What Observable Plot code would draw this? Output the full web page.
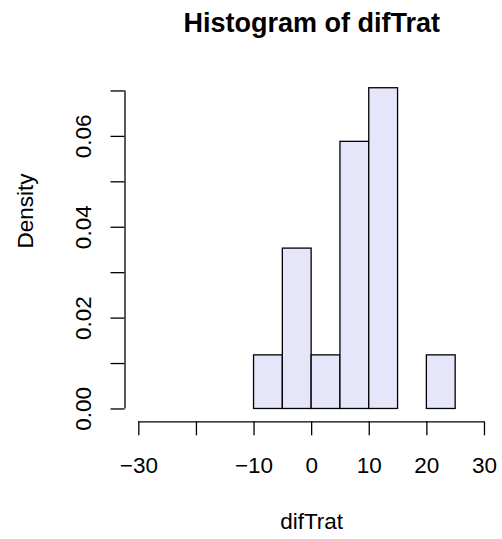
<!DOCTYPE html>
<html><head><meta charset="utf-8">
<script src="https://cdn.jsdelivr.net/npm/d3@7"></script>
<script src="https://cdn.jsdelivr.net/npm/@observablehq/plot@0.6"></script>
<style>html,body{margin:0;padding:0;background:#fff;} svg{display:block;}</style>
</head><body><div id="chart"></div>
<script>
// Histogram bins (R: hist(difTrat, freq = FALSE))
const binStart = [-10, -5, 0, 5, 10, 15, 20];
const binEnd   = [-5, 0, 5, 10, 15, 20, 25];
const density  = [0.0118, 0.0353, 0.0118, 0.0588, 0.0706, 0, 0.0118];

// Axis ticks and labels
const xTicks = [-30, -20, -10, 0, 10, 20, 30];
const xTickLabels = ["\u221230", "", "\u221210", "0", "10", "20", "30"];
const yTicks = [0, 0.01, 0.02, 0.03, 0.04, 0.05, 0.06, 0.07];
const yTickLabels = ["0.00", "", "0.02", "", "0.04", "", "0.06", ""];

const title = "Histogram of difTrat";
const xLabel = "difTrat";
const yLabel = "Density";

// R-style 4% axis extension
const xMin = xTicks[0], xMax = xTicks[xTicks.length - 1];
const xPad = (xMax - xMin) * 0.04;
const yTop = d3.max(density);
const yPad = yTop * 0.04;

const bins = binStart.map((s, i) => ({x1: s, x2: binEnd[i], y: density[i]}));

const font = "'Liberation Sans', Arial, Helvetica, sans-serif";
const fs = 22.5;

const chart = Plot.plot({
  width: 502,
  height: 539,
  marginLeft: 124.5,
  marginRight: 4.2,
  marginTop: 74.9,
  marginBottom: 117.7,
  style: {fontFamily: font, fontSize: fs + "px", color: "#000", background: "#fff"},
  x: {domain: [xMin - xPad, xMax + xPad]},
  y: {domain: [-yPad, yTop + yPad]},
  marks: [
    Plot.rectY(bins, {x1: "x1", x2: "x2", y1: 0, y2: "y", fill: "#E6E6FA", stroke: "#000", strokeWidth: 1.3}),
    // axis lines (R draws them from first to last tick)
    Plot.ruleY([-yPad], {x1: xMin, x2: xMax, stroke: "#000", strokeWidth: 1.3}),
    Plot.ruleX([xMin - xPad], {y1: yTicks[0], y2: yTicks[yTicks.length - 1], stroke: "#000", strokeWidth: 1.3}),
    Plot.axisX({
      ticks: xTicks, tickSize: 14, tickPadding: 21, strokeWidth: 1.3,
      tickFormat: d => xTickLabels[xTicks.indexOf(d)],
      fontSize: fs, label: null
    }),
    Plot.axisY({
      ticks: yTicks, tickSize: 14, tickPadding: 20.5, tickRotate: -90, strokeWidth: 1.3,
      tickFormat: d => yTickLabels[yTicks.indexOf(d)],
      fontSize: fs, label: null
    }),
    Plot.text([xLabel], {frameAnchor: "bottom", lineAnchor: "middle", dy: 100, fontSize: fs, fill: "#000"}),
    Plot.text([yLabel], {frameAnchor: "left", lineAnchor: "middle", dx: -99.5, rotate: -90, fontSize: fs, fill: "#000"}),
    Plot.text([title], {frameAnchor: "top", lineAnchor: "middle", dy: -52, fontSize: 27, fontWeight: "bold", fill: "#000"})
  ]
});
document.getElementById("chart").appendChild(chart);
</script>
</body></html>
